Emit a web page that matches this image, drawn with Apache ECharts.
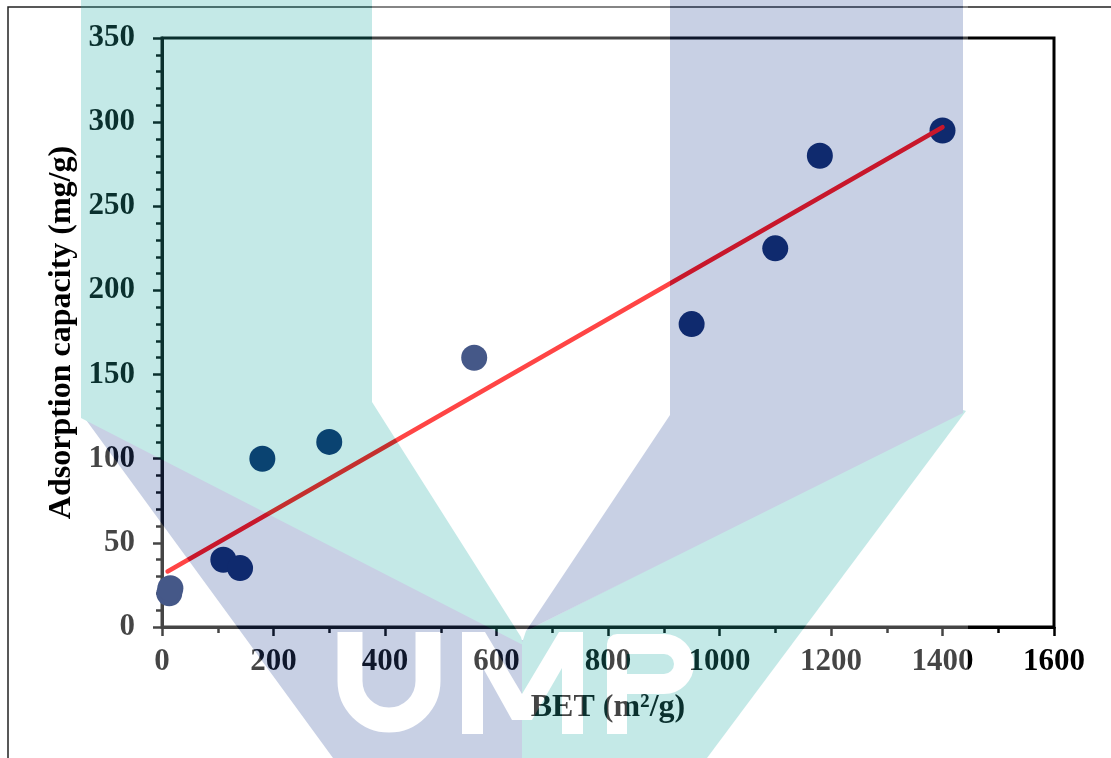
<!DOCTYPE html>
<html>
<head>
<meta charset="utf-8">
<script src="https://cdn.jsdelivr.net/npm/echarts@6/dist/echarts.min.js"></script>
<style>
  html, body { margin: 0; padding: 0; background: #fff; }
  #container { width: 1111px; height: 758px; }
</style>
</head>
<body>
<div id="container"></div>
<script>
// measured points: BET surface area (m2/g) vs adsorption capacity (mg/g)
var betX = [13, 15, 110, 140, 180, 300, 560, 950, 1100, 1180, 1400];
var capacityY = [20, 23, 40, 35, 100, 110, 160, 180, 225, 280, 295];
// ends of the red trend line
var fitX = [10, 1400];
var fitY = [33, 297];

var FONT = 'Liberation Serif';

// background logo (UMP watermark), painted once into a canvas and laid over the chart
function buildWatermark() {
    var c = document.createElement('canvas');
    c.width = 1111;
    c.height = 758;
    var g = c.getContext('2d');
    var teal = 'rgb(40,177,170)';
    var lav = 'rgb(55,85,159)';

    function poly(pts, col) {
        g.fillStyle = col;
        g.beginPath();
        for (var i = 0; i < pts.length; i++) {
            if (i == 0) g.moveTo(pts[i][0], pts[i][1]);
            else g.lineTo(pts[i][0], pts[i][1]);
        }
        g.closePath();
        g.fill();
    }

    g.fillStyle = '#fff';
    g.fillRect(81, 0, 887, 758);

    poly([[81, 410], [522, 640], [560, 640], [560, 758], [333, 758], [81, 413]], lav);
    poly([[522, 643], [526, 631], [963, 410], [966, 411], [707, 758], [522, 758]], teal);
    poly([[81, 0], [372, 0], [372, 402], [521, 637], [523, 645], [81, 418]], teal);
    poly([[670, 0], [963, 0], [963, 413], [526, 631], [670, 415]], lav);

    // the white letters U M P
    g.strokeStyle = '#fff';
    g.lineCap = 'butt';
    g.lineJoin = 'round';
    g.lineWidth = 25;
    g.beginPath();
    g.moveTo(350, 632);
    g.lineTo(350, 681);
    g.arc(389, 681, 39, Math.PI, 0, true);
    g.lineTo(428, 632);
    g.stroke();

    poly([[462, 632], [485, 632], [522, 694], [559, 632], [583, 632], [583, 734], [562, 734],
          [562, 668], [532, 720], [512, 720], [483, 668], [483, 734], [462, 734]], '#fff');

    g.lineWidth = 20;
    g.beginPath();
    g.moveTo(617, 734);
    g.lineTo(617, 644);
    g.lineTo(664, 644);
    g.arc(664, 664, 20, -Math.PI / 2, Math.PI / 2, false);
    g.lineTo(617, 684);
    g.stroke();
    return c;
}

var dom = document.getElementById('container');
var myChart = echarts.init(dom, null, { renderer: 'canvas' });

var scatterData = betX.map(function (x, i) { return [x, capacityY[i]]; });
var fitData = fitX.map(function (x, i) { return [x, fitY[i]]; });

var labelStyle = {
    fontFamily: FONT,
    fontWeight: 'bold',
    fontSize: 31,
    color: '#000'
};
var nameStyle = {
    fontFamily: FONT,
    fontWeight: 'bold',
    fontSize: 32,
    color: '#000'
};

function plain(v) { return String(v); }

var option = {
    animation: false,
    backgroundColor: '#fff',
    grid: {
        left: 162,
        right: 57,
        top: 38,
        bottom: 131,
        containLabel: false,
        outerBoundsMode: 'none',
        show: true,
        borderColor: '#000',
        borderWidth: 3,
        backgroundColor: 'transparent'
    },
    xAxis: {
        type: 'value',
        min: 0,
        max: 1600,
        interval: 200,
        name: 'BET (m²/g)',
        nameLocation: 'middle',
        nameGap: 65,
        nameTextStyle: nameStyle,
        axisLine: { onZero: false, lineStyle: { color: '#000', width: 3 } },
        axisTick: { inside: false, length: 9, lineStyle: { color: '#000', width: 2.5 } },
        minorTick: { show: true, splitNumber: 2, length: 6, lineStyle: { color: '#000', width: 2.5 } },
        splitLine: { show: false },
        axisLabel: Object.assign({ margin: 19, formatter: plain }, labelStyle)
    },
    yAxis: {
        type: 'value',
        min: 0,
        max: 350,
        interval: 50,
        name: 'Adsorption capacity (mg/g)',
        nameLocation: 'middle',
        nameRotate: 90,
        nameGap: 82,
        nameTextStyle: nameStyle,
        axisLine: { onZero: false, lineStyle: { color: '#000', width: 3 } },
        axisTick: { inside: false, length: 9, lineStyle: { color: '#000', width: 2.5 } },
        minorTick: { show: true, splitNumber: 5, length: 6, lineStyle: { color: '#000', width: 2.5 } },
        splitLine: { show: false },
        axisLabel: Object.assign({ margin: 27, formatter: plain }, labelStyle)
    },
    series: [
        {
            type: 'scatter',
            data: scatterData,
            symbol: 'circle',
            symbolSize: 26,
            itemStyle: { color: '#001a5c', opacity: 1 },
            z: 2
        },
        {
            type: 'line',
            data: fitData,
            showSymbol: false,
            symbol: 'none',
            lineStyle: { color: '#ff0000', width: 4.5, cap: 'round' },
            z: 3
        }
    ],
    graphic: [
        {
            type: 'rect',
            silent: true,
            z: 50,
            shape: { x: 8, y: 7, width: 1200, height: 800 },
            style: { fill: 'none', stroke: '#222', lineWidth: 1.5 }
        },
        {
            type: 'image',
            silent: true,
            z: 100,
            left: 0,
            top: 0,
            style: { image: buildWatermark(), x: 0, y: 0, width: 1111, height: 758, opacity: 0.27 }
        }
    ]
};

myChart.setOption(option, true);
</script>
</body>
</html>
